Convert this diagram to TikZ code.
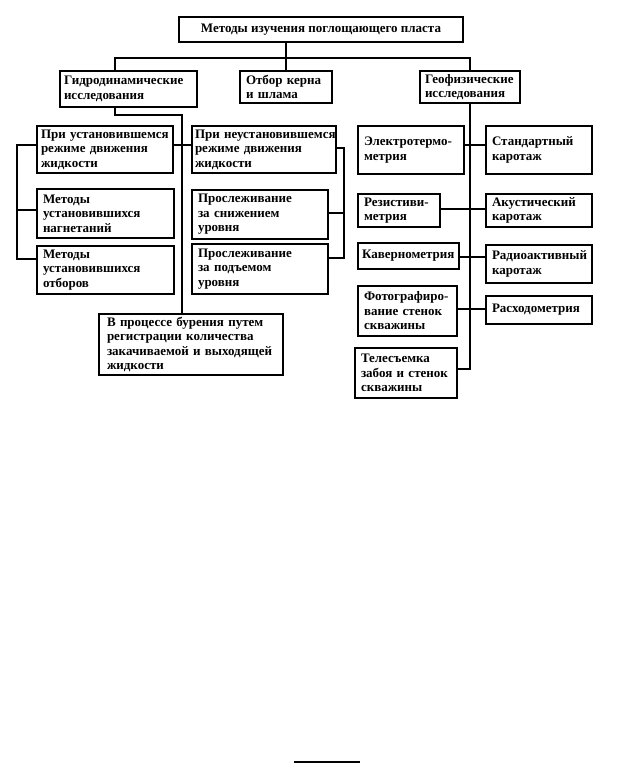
\documentclass[tikz,border=0pt]{standalone}
\usepackage{fontspec}
\setmainfont{Liberation Serif}
\usepackage{tikz}

\begin{document}
\begin{tikzpicture}[
  x=1pt, y=-1pt,
  every node/.style={draw, line width=2pt, inner xsep=6pt, inner ysep=1pt,
    anchor=north west, align=left, font=\fontsize{13}{14.5}\selectfont\bfseries},
  link/.style={line width=1.6pt}
]
\useasboundingbox (0,0) rectangle (624,763);
\node[minimum width=284pt, minimum height=25pt] (top) at (178,16) {Методы изучения поглощающего пласта};
\node[inner xsep=4pt, text width=129pt, minimum height=36pt] (gidro) at (59,70) {Гидродинамические\\исследования};
\node[text width=80pt, minimum height=32pt] (kern) at (239,70) {Отбор керна\\и шлама};
\node[inner xsep=5pt, text width=90pt, minimum height=32pt] (geo) at (419,70) {Геофизические\\исследования};

\node[inner xsep=4pt, text width=128pt, minimum height=47pt] (L1) at (36,125) {При~установившемся\\режиме движения\\жидкости};
\node[text width=125pt, minimum height=49pt] (L2) at (36,188) {Методы\\установившихся\\нагнетаний};
\node[text width=125pt, minimum height=48pt] (L3) at (36,245) {Методы\\установившихся\\отборов};
\node[inner xsep=3pt, text width=138pt, minimum height=47pt] (M1) at (191,125) {При~неустановившемся\\режиме движения\\жидкости};
\node[text width=124pt, minimum height=49pt] (M2) at (191,189) {Прослеживание\\за снижением\\уровня};
\node[text width=124pt, minimum height=50pt] (M3) at (191,243) {Прослеживание\\за подъемом\\уровня};
\node[inner xsep=8pt, text width=168pt, minimum height=61pt] (drill) at (98,313) {В~процессе~бурения~путем\\регистрации количества\\закачиваемой~и~выходящей\\жидкости};

\node[text width=94pt, minimum height=48pt] (E1) at (357,125) {Электротермо-\\метрия};
\node[text width=70pt, minimum height=33pt] (E2) at (357,193) {Резистиви-\\метрия};
\node[inner xsep=4pt, text width=93pt, minimum height=26pt] (E3) at (357,242) {Кавернометрия};
\node[text width=87pt, minimum height=50pt] (E4) at (357,285) {Фотографиро-\\вание~стенок\\скважины};
\node[text width=90pt, minimum height=50pt] (E5) at (354,347) {Телесъемка\\забоя~и~стенок\\скважины};
\node[text width=94pt, minimum height=48pt] (R1) at (485,125) {Стандартный\\каротаж};
\node[text width=94pt, minimum height=33pt] (R2) at (485,193) {Акустический\\каротаж};
\node[text width=94pt, minimum height=38pt] (R3) at (485,244) {Радиоактивный\\каротаж};
\node[text width=94pt, minimum height=28pt] (R4) at (485,295) {Расходометрия};

\coordinate (busL) at (115,58);
\coordinate (busR) at (470,58);
\coordinate (gk) at (182,115);
\draw[link] (kern.north) -- (kern.north |- top.south);
\draw[link] (gidro.north -| busL) -- (busL) -- (busR) -- (geo.north -| busR);
\draw[link] (gidro.south -| busL) -- (busL |- gk) -- (gk) -- (drill.north -| gk);
\draw[link] (L1.east |- 0,145) -- (M1.west |- 0,145);
\draw[link] (L1.west |- 0,145) -- (17,145) -- (17,259) -- (L3.west |- 0,259);
\draw[link] (17,210) -- (L2.west |- 0,210);
\draw[link] (M1.east |- 0,148) -- (344,148) -- (344,258) -- (M3.east |- 0,258);
\draw[link] (344,213) -- (M2.east |- 0,213);
\draw[link] (geo.south -| busR) -- (busR |- 0,369) -- (E5.east |- 0,369);
\draw[link] (E1.east |- 0,145) -- (R1.west |- 0,145);
\draw[link] (E2.east |- 0,209) -- (R2.west |- 0,209);
\draw[link] (E3.east |- 0,257) -- (R3.west |- 0,257);
\draw[link] (E4.east |- 0,309) -- (R4.west |- 0,309);
\draw[link] (294,762) -- (360,762);
\end{tikzpicture}
\end{document}
